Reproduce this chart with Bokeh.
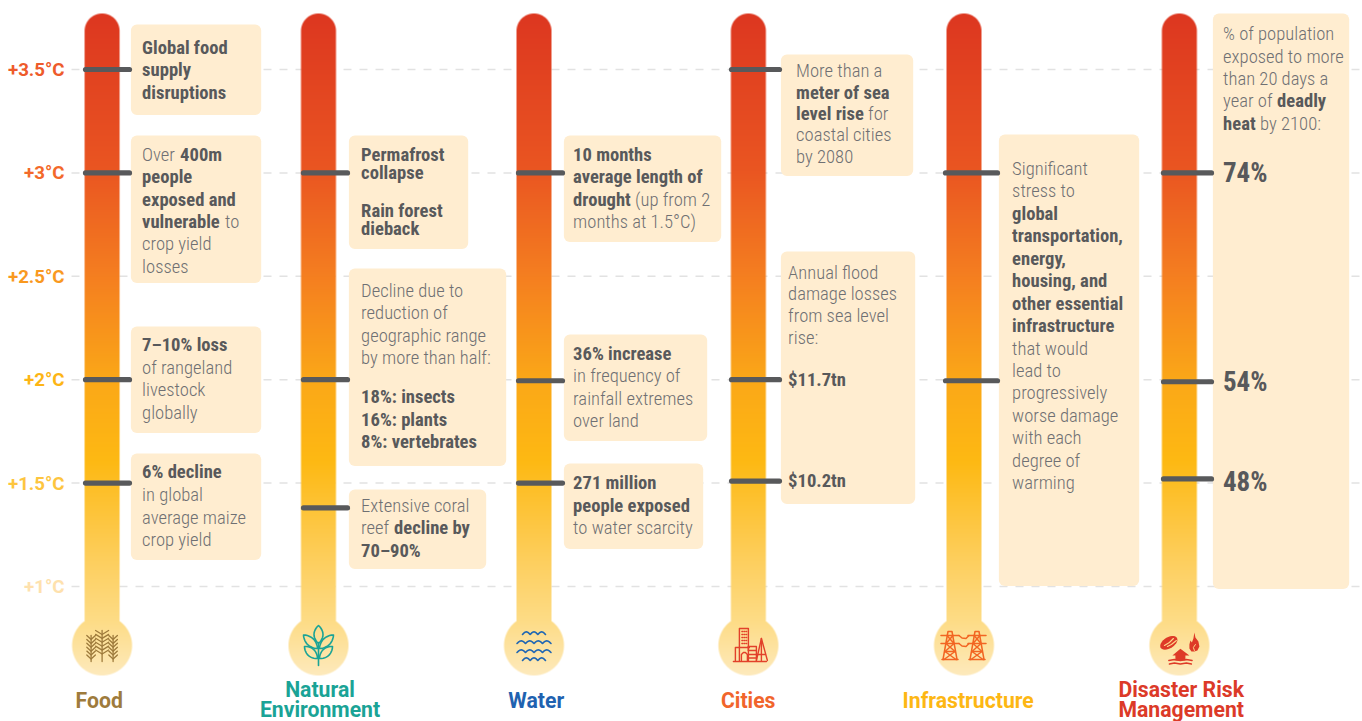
import math
import numpy as np
from bokeh.plotting import figure
from bokeh.models import Range1d
from bokeh.core.properties import value
from bokeh.embed import file_html
from bokeh.resources import INLINE

# ---------- data ----------
CATEGORIES = ["Food", "Natural Environment", "Water", "Cities", "Infrastructure", "Disaster Risk Management"]
TEMPS = [3.5, 3.0, 2.5, 2.0, 1.5, 1.0]
TEMP_LABELS = ["+3.5°C", "+3°C", "+2.5°C", "+2°C", "+1.5°C", "+1°C"]
TEMP_COLORS = ["#ee5b2b", "#f3692a", "#f9991f", "#fdb515", "#fdc53f", "#fee1ad"]
TICKS_FOOD = [3.5, 3.0, 2.0, 1.5]
TICKS_NATURAL = [3.0, 2.0, 1.38]
TICKS_WATER = [3.0, 1.995, 1.5]
TICKS_CITIES = [3.5, 2.0, 1.51]
TICKS_INFRA = [3.0, 1.995]
TICKS_DISASTER = [3.0, 1.99, 1.52]

# ---------- layout ----------
W, H = 1362, 721
X0, Y0 = 0, 0
CX = [101.6, 318, 533.5, 747.9, 963.5, 1178.9]
TICK_X = [(85, 129), (303, 347), (518, 562), (731, 779), (945, 997), (1163, 1211)]
ALL_TICKS = [TICKS_FOOD, TICKS_NATURAL, TICKS_WATER, TICKS_CITIES, TICKS_INFRA, TICKS_DISASTER]
STOPS_Y = [13, 170, 276, 380, 460, 560, 620, 675]
STOPS_C = ["#dd3720", "#ea5622", "#f57f20", "#fba818", "#feb913", "#fdcf5e", "#fddc86", "#feeabd"]
BOX = "#ffedd0"
BOXES = [  # left, right, top, bottom
    (131, 261, 24, 115), (131, 261, 135, 283), (131, 261, 326, 433), (131, 261, 453, 560),
    (349, 468, 135, 249), (349, 506, 268, 466), (349, 486, 489, 569),
    (564, 721, 135, 242), (564, 707, 334, 441), (564, 703, 463, 549),
    (781, 913, 54, 176), (781, 915, 251, 504),
    (999, 1139, 134, 586),
    (1213, 1349, 13, 589),
]
B, L = True, False
RUNS = [
    (142, 48, "Global food", B), (142, 70, "supply", B), (142, 93, "disruptions", B),
    (142, 155, "Over", L), (180, 155, "400m", B), (142, 177, "people", B), (142, 200, "exposed and", B),
    (142, 222, "vulnerable", B), (225, 222, "to", L), (142, 244, "crop yield", L), (142, 267, "losses", L),
    (142, 345, "7–10% loss", B), (142, 368, "of rangeland", L), (142, 390, "livestock", L), (142, 413, "globally", L),
    (142, 472, "6% decline", B), (142, 495, "in global", L), (142, 518, "average maize", L), (142, 540, "crop yield", L),
    (361, 155, "Permafrost", B), (361, 173, "collapse", B), (361, 211, "Rain forest", B), (361, 229, "dieback", B),
    (361, 291, "Decline due to", L), (361, 313, "reduction of", L), (361, 336, "geographic range", L),
    (361, 358, "by more than half:", L), (361, 397, "18%: insects", B), (361, 420, "16%: plants", B),
    (361, 442, "8%: vertebrates", B),
    (361, 506, "Extensive coral", L), (361, 528, "reef", L), (394, 528, "decline by", B), (361, 551, "70–90%", B),
    (573, 155, "10 months", B), (573, 177, "average length of", B), (573, 200, "drought", B),
    (635, 200, "(up from 2", L), (573, 222, "months at 1.5°C)", L),
    (573, 354, "36% increase", B), (573, 376, "in frequency of", L), (573, 399, "rainfall extremes", L), (573, 421, "over land", L),
    (573, 483, "271 million", B), (573, 506, "people exposed", B), (573, 528, "to water scarcity", L),
    (796, 71, "More than a", L), (796, 93, "meter of sea", B), (796, 114, "level rise", B), (868, 114, "for", L),
    (796, 135, "coastal cities", L), (796, 157, "by 2080", L),
    (788, 273, "Annual flood", L), (788, 294, "damage losses", L), (788, 316, "from sea level", L), (788, 338, "rise:", L),
    (788, 380, "$11.7tn", B), (788, 481, "$10.2tn", B),
    (1012, 169, "Significant", L), (1012, 191, "stress to", L), (1012, 214, "global", B), (1012, 236, "transportation,", B),
    (1012, 259, "energy,", B), (1012, 281, "housing, and", B), (1012, 304, "other essential", B), (1012, 326, "infrastructure", B),
    (1012, 349, "that would", L), (1012, 371, "lead to", L), (1012, 393, "progressively", L), (1012, 416, "worse damage", L),
    (1012, 438, "with each", L), (1012, 461, "degree of", L), (1012, 483, "warming", L),
    (1223, 34, "% of population", L), (1223, 57, "exposed to more", L), (1223, 79, "than 20 days a", L),
    (1223, 101, "year of", L), (1277, 101, "deadly", B), (1223, 124, "heat", B), (1260, 124, "by 2100:", L),
]
BIG = [(1223, 173, "74%"), (1223, 382, "54%"), (1223, 482, "48%")]
HEADS = [
    (98.7, 700, "Food", "#9e7b3c"), (319.5, 688.5, "Natural", "#1aa396"), (319.5, 708.5, "Environment", "#1aa396"),
    (535.7, 700, "Water", "#1f62b0"), (747.7, 700, "Cities", "#f1652c"), (967.7, 700, "Infrastructure", "#fdb714"),
    (1180.7, 688.5, "Disaster Risk", "#dc3a28"), (1180.7, 708.5, "Management", "#dc3a28"),
]
CONDENSED = "'Roboto Condensed','Liberation Sans Narrow','Archivo Narrow'"
CONDENSED_L = "'Roboto Condensed Light','Roboto Condensed','Liberation Sans Narrow','Archivo Narrow'"

# temperature scale: +3.5 at y=69, +1 at y=586 on the page
def t_at(y):
    return 1 + (586 - y) / 206.8

p = figure(width=W, height=H, output_backend="svg", toolbar_location=None,
           x_range=Range1d(X0, X0 + W), y_range=Range1d(t_at(Y0 + H), t_at(Y0)),
           x_axis_location=None, y_axis_location=None, min_border=0,
           outline_line_color=None, background_fill_color="white")
p.grid.visible = False
p.extra_y_ranges = {"px": Range1d(Y0 + H, Y0), "up": Range1d(-(Y0 + H), -Y0)}

# dashed reference lines
p.segment(x0=[71] * len(TEMPS), x1=[1362] * len(TEMPS), y0=TEMPS, y1=TEMPS,
          line_color="#e2e2e2", line_width=1.5, line_dash="8 8")

# thermometers (gradient bodies)
def rgb(h):
    return [int(h[i:i + 2], 16) for i in (1, 3, 5)]

stops = np.array([rgb(c) for c in STOPS_C], float)
top, bottom = 13, 677
for cx in CX:
    left = int(cx) - 33
    w = 68
    xs = left + np.arange(w) + 0.5
    ys = np.arange(bottom - 1, top - 1, -1) + 0.5  # row 0 is the lowest row
    XX, YY = np.meshgrid(xs, ys)
    # capsule of half width 17.5 and a circle of radius 30
    dy = np.clip(YY, top + 17.5, 640)
    d1 = np.hypot(XX - cx, YY - dy) - 17.5
    d2 = np.hypot(XX - cx, YY - 645) - 30
    a = np.clip(0.5 - np.minimum(d1, d2), 0, 1)
    img = np.zeros(XX.shape + (4,), dtype=np.uint8)
    for k in range(3):
        img[..., k] = np.interp(YY, STOPS_Y, stops[:, k]).astype(np.uint8)
    img[..., 3] = (a * 255).astype(np.uint8)
    arr = img.view(dtype=np.uint32).reshape(XX.shape)
    p.image_rgba(image=[arr], x=left, y=-bottom, dw=w, dh=bottom - top, y_range_name="up")

# callout boxes
p.quad(left=[b[0] - 0.6 for b in BOXES], right=[b[1] - 0.3 for b in BOXES], top=[b[2] for b in BOXES],
       bottom=[b[3] - 0.4 for b in BOXES], y_range_name="px", fill_color=BOX, line_color=None, border_radius=6)

# markers on thermometers
for (x0, x1), vals in zip(TICK_X, ALL_TICKS):
    p.segment(x0=[x0] * len(vals), x1=[x1] * len(vals), y0=vals, y1=vals,
              line_color="#58595b", line_width=5.2, line_cap="round")

# temperature labels
p.text(x=[64] * len(TEMPS), y=TEMPS, text=TEMP_LABELS, text_color=TEMP_COLORS, text_font=value("Roboto"),
       text_font_style="bold", text_font_size="18.7px", text_align="right", text_baseline="middle", y_offset=0.5)

# callout text
bold = [r for r in RUNS if r[3]]
light = [r for r in RUNS if not r[3]]
p.text(x=[r[0] for r in bold], y=[r[1] for r in bold], text=[r[2] for r in bold], y_range_name="px",
       text_color="#58595b", text_font=value(CONDENSED), text_font_style="bold", text_font_size="18.6px",
       text_baseline="middle", x_offset=-0.4, y_offset=-0.8)
p.text(x=[r[0] for r in light], y=[r[1] for r in light], text=[r[2] for r in light], y_range_name="px",
       text_color="#6f7073", text_font=value(CONDENSED_L), text_font_size="18.6px", text_baseline="middle",
       x_offset=-0.4, y_offset=-0.8)
p.text(x=[r[0] for r in BIG], y=[r[1] for r in BIG], text=[r[2] for r in BIG], y_range_name="px",
       text_color="#58595b", text_font=value(CONDENSED), text_font_style="bold", text_font_size="27px",
       text_baseline="middle", x_offset=-0.6, y_offset=-0.5)

# column headings
p.text(x=[h[0] for h in HEADS], y=[h[1] for h in HEADS], text=[h[2] for h in HEADS], text_color=[h[3] for h in HEADS],
       y_range_name="px", text_font=value("Roboto"), text_font_style="bold", text_font_size="21.2px",
       text_align="center", text_baseline="middle")

# ---------- icons, drawn relative to each circle centre ----------
CY = 645
def lines(cx, segs, color, width=1.5):
    p.multi_line(xs=[[cx + a for a, _ in s] for s in segs], ys=[[CY + b for _, b in s] for s in segs],
                 y_range_name="px", line_color=color, line_width=width, line_cap="round", line_join="round")

def fill(cx, polys, color):
    p.patches(xs=[[cx + a for a, _ in s] for s in polys], ys=[[CY + b for _, b in s] for s in polys],
              y_range_name="px", fill_color=color, line_color=None)

# wheat
wheat = []
for sx, t0, half, n in [(-11, -10, 4.3, 6), (0, -15, 6.5, 6), (11, -10, 4.3, 6)]:
    wheat.append([(sx, t0), (sx, 16)])
    for i in range(n):
        yy = t0 + 3 + i * 3.9
        wheat.append([(sx - half, yy - 3), (sx, yy + 1), (sx + half, yy - 3)])
lines(CX[0], wheat, "#9e7b3c", 1.3)

# leaves
def lens(a, b, bulge):
    ax, ay = a; bx, by = b
    nx, ny = -(by - ay), bx - ax
    ln = math.hypot(nx, ny); nx, ny = nx / ln, ny / ln
    pts = []
    for s in (1, -1):
        for i in range(13):
            t = i / 12
            if s == -1:
                t = 1 - t
            h = bulge * math.sin(math.pi * t) ** 0.8
            pts.append((ax + (bx - ax) * t + s * nx * h, ay + (by - ay) * t + s * ny * h))
    return pts

leaf = [[(0, -3), (0, 20)]]
for a, b, bl in [((0, -2), (0, -20), 4.5), ((1, 3), (15, -10.5), 4), ((-1, 3), (-15, -10.5), 4),
                 ((1, 13), (14, 1), 4), ((-1, 13), (-14, 1), 4)]:
    leaf.append(lens(a, b, bl))
lines(CX[1], leaf, "#1aa396", 1.6)

# waves
waves = []
for yy, half in [(-12, 11.5), (-3, 17), (6, 17), (14, 11.5)]:
    seg = []
    n = int(round(half * 2 / 8))
    for i in range(n * 12 + 1):
        t = i / (n * 12)
        xx = -half + 2 * half * t
        seg.append((xx, yy - 2.6 * abs(math.sin(math.pi * n * t)) + 1))
    waves.append(seg)
lines(CX[2], waves, "#1f66b4", 1.6)

# city
city = [
    [(-9, 15), (-9, -17), (0, -17), (0, 5)],
    [(-13, 15), (-13, 2), (1, 2)],
    [(-7, 15), (-7, 9), (-5, 7), (-3, 7), (-1, 9), (-1, 15)],
    [(0, 1), (8, 1), (8, 15)], [(0, 5), (8, 5)], [(0, 9), (8, 9)], [(0, 12.5), (8, 12.5)], [(0, 15), (0, 1)],
    [(8, 15), (13, -7), (19, 15)], [(13, -7), (13, 15)], [(9, 9), (17, 9)],
    [(-15, 16), (18, 16)],
]
for xx in (-6.5, -4.5, -2.5):
    for yy in (-14, -11, -8, -5, -2):
        city.append([(xx, yy), (xx + 0.8, yy)])
lines(CX[3], city, "#e2412a", 1.4)

# pylons
pyl = []
for px_ in (-14, 13):
    pyl += [
        [(px_ - 7, 14), (px_ - 2, -14), (px_ + 2, -14), (px_ + 7, 14)],
        [(px_ - 9, -10), (px_ + 9, -10)], [(px_ - 9, -2), (px_ + 9, -2)],
        [(px_ - 3, -10), (px_ + 4, -2), (px_ - 5, 6), (px_ + 6, 14)],
        [(px_ + 3, -10), (px_ - 4, -2), (px_ + 5, 6), (px_ - 6, 14)],
        [(px_ - 5, 6), (px_ + 5, 6)], [(px_ - 8, 14), (px_ + 8, 14)],
    ]
pyl.append([(-5, -10), (-2, -7.5), (2, -7), (5, -10)])
pyl.append([(-5, -2), (-2, 0.5), (2, 1), (5, -2)])
lines(CX[4], pyl, "#f26522", 1.5)

# disaster
dc = CX[5]
storm = [(-10.6 + 9.5 * math.cos(t) * math.cos(0.55) + 5.5 * math.sin(t) * math.sin(0.55),
          -2.7 - 9.5 * math.cos(t) * math.sin(0.55) + 5.5 * math.sin(t) * math.cos(0.55))
         for t in np.linspace(0, 2 * math.pi, 30)]
flame = [(15, -13), (16, -8), (19, -4), (20, 1), (18, 5), (15, 6), (12, 6), (10, 3), (10, -1), (11, -5), (12.5, -3), (14, -7)]
roof = [(1, 3.3), (10, 10), (6, 10), (6, 15), (-4, 15), (-4, 10), (-7, 10)]
fill(dc, [storm, flame, roof], "#de3a27")
lines(dc, [[(-6, -7), (-10, -3), (-15, 0)], [(-3, -5), (-8, -1), (-12, 1)]], "#fdd98a", 1.1)
lines(dc, [[(15, 5), (14, 2), (16, -1)]], "#fdd98a", 1.0)
lines(dc, [[(-10.6, 15), (-5, 14), (1, 15), (7, 14), (12.7, 15)], [(-10, 18.5), (-5, 17.5), (1, 18.5), (7, 17.5), (12, 18.5)]],
      "#de3a27", 1.4)

open("out.html", "w").write(file_html(p, INLINE))
